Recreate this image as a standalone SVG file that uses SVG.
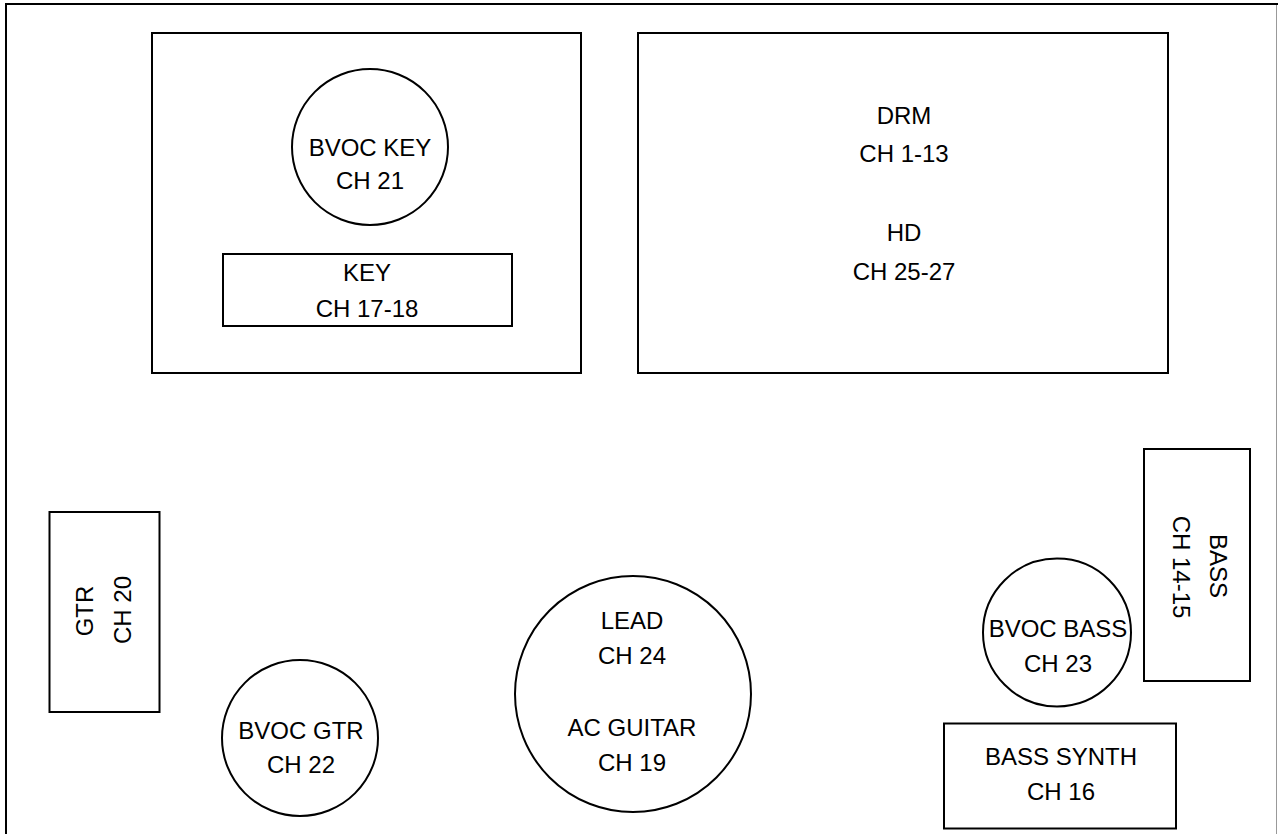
<svg xmlns="http://www.w3.org/2000/svg" width="1278" height="834" viewBox="0 0 1278 834">
<style>
.s{fill:none;stroke:#000;stroke-width:2}
text{font-family:"Liberation Sans",Arial,sans-serif;font-size:24px;fill:#000;text-anchor:middle}
</style>
<rect width="1278" height="834" fill="#fff"/>
<g id="frame">
<line x1="5" y1="4" x2="1278" y2="4" stroke="#000" stroke-width="2"/>
<line x1="6" y1="3" x2="6" y2="834" stroke="#000" stroke-width="2"/>
<line x1="1276.5" y1="5" x2="1276.5" y2="834" stroke="#999" stroke-width="1"/>
</g>
<g id="keys-riser"><rect class="s" x="152" y="33" width="429" height="340"/></g>
<g id="bvoc-key"><circle class="s" cx="370" cy="147" r="78"/><text x="370" y="156">BVOC KEY</text><text x="370" y="189">CH 21</text></g>
<g id="key"><rect class="s" x="223" y="254" width="289" height="72"/><text x="367" y="281">KEY</text><text x="367" y="317">CH 17-18</text></g>
<g id="drm"><rect class="s" x="638" y="33" width="530" height="340"/><text x="904" y="124">DRM</text><text x="904" y="162">CH 1-13</text><text x="904" y="241">HD</text><text x="904" y="280">CH 25-27</text></g>
<g id="gtr"><rect class="s" x="49.5" y="512" width="110" height="200"/><text transform="translate(93,611) rotate(-90)">GTR</text><text transform="translate(131,610) rotate(-90)">CH 20</text></g>
<g id="bvoc-gtr"><circle class="s" cx="300" cy="738" r="78"/><text x="301" y="739">BVOC GTR</text><text x="301" y="773">CH 22</text></g>
<g id="lead"><circle class="s" cx="633" cy="694" r="118"/><text x="632" y="629">LEAD</text><text x="632" y="664">CH 24</text><text x="632" y="736">AC GUITAR</text><text x="632" y="771">CH 19</text></g>
<g id="bvoc-bass"><circle class="s" cx="1057" cy="632.5" r="74"/><text x="1058" y="637">BVOC BASS</text><text x="1058" y="672">CH 23</text></g>
<g id="bass"><rect class="s" x="1144" y="449" width="106" height="232"/><text transform="translate(1210,566) rotate(90)">BASS</text><text transform="translate(1173,567) rotate(90)">CH 14-15</text></g>
<g id="bass-synth"><rect class="s" x="944" y="723.5" width="232" height="105"/><text x="1061" y="765">BASS SYNTH</text><text x="1061" y="800">CH 16</text></g>
<g id="connectors"/>
</svg>
